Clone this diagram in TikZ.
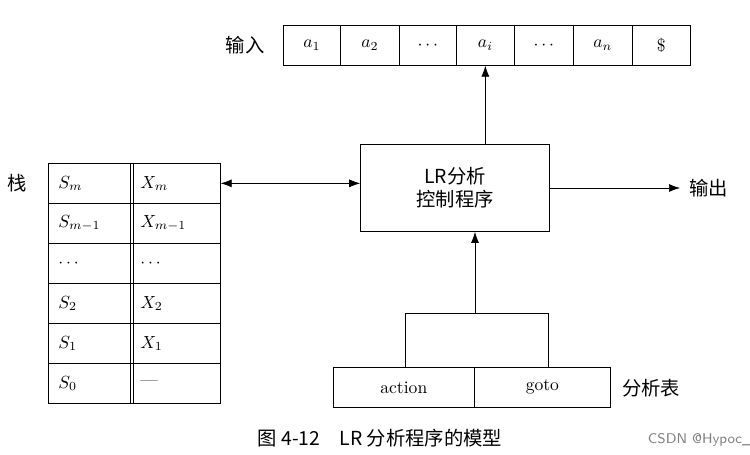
\documentclass[tikz,border=0pt]{standalone}
\usepackage{fontspec}
\newfontfamily\cjk{Noto Sans CJK SC}
\usetikzlibrary{arrows.meta,positioning}
\begin{document}
\begin{tikzpicture}[x=0.02cm,y=-0.02cm,
    cell/.style={draw,minimum height=0.8cm,inner sep=0pt,anchor=north west},
    lab/.style={font=\cjk\fontsize{11}{13}\selectfont},
    arr/.style={-{Latex[length=2.2mm,width=1.6mm]}},
  ]
  \useasboundingbox (0,0) rectangle (750,455);
  % input tape
  \foreach \x/\w/\t [count=\i] in {283/57/$a_1$,340/59/$a_2$,399/57/$\cdots$,456/58/$a_i$,514/59/$\cdots$,573/59/$a_n$,632/58/\$}
    \node[cell,minimum width=\w*0.02cm] (t\i) at (\x,25) {\t};
  \node[lab] (in) at (245,45) {输入};
  % control
  \node[draw,minimum width=3.78cm,minimum height=1.74cm,align=center,lab] (ctl) at (455,188) {LR分析\\控制程序};
  \draw[arr] (ctl.north -| t4) -- (t4.south);
  \coordinate (outp) at (680,188);
  \draw[arr] (ctl.east) -- (outp);
  \node[lab,anchor=west] (out) at (683,188) {输出};
  % stack
  \foreach \a/\b [count=\i] in {$S_m$/$X_m$,$S_{m-1}$/$X_{m-1}$,$\cdots$/$\cdots$,$S_2$/$X_2$,$S_1$/$X_1$,$S_0$/---}{
    \node[cell,minimum width=1.64cm,text width=1.3cm,align=left,inner xsep=0.2cm] (s\i) at (48,163+40*\i-40) {\a};
    \node[cell,minimum width=1.76cm,text width=1.4cm,align=left,inner xsep=0.2cm] (x\i) at (130,163+40*\i-40) {\b};
  }
  \node[lab] (st) at (17,183) {栈};
  \draw[{Latex[length=2.2mm,width=1.6mm]}-{Latex[length=2.2mm,width=1.6mm]}] (x1.east) -- (ctl.west |- x1.east);
  % table
  \node[cell,minimum width=2.82cm] (act) at (333,367) {action};
  \node[cell,minimum width=2.72cm] (go) at (474,367) {goto};
  \node[lab] (tb) at (651,388) {分析表};
  \coordinate (bl) at (405,313);
  \coordinate (br) at (548,313);
  \coordinate (bm) at (475,313);
  \draw (bl |- act.north) -- (bl) -- (br) -- (br |- go.north);
  \draw[arr] (bm) -- (ctl.south -| bm);
  % caption
  \node[lab] (cap) at (380,438) {图 4-12\quad LR 分析程序的模型};
  \node[font=\sffamily\fontsize{8}{9}\selectfont,text=gray] (wm) at (700,440) {CSDN @Hypoc\_};
\end{tikzpicture}
\end{document}
